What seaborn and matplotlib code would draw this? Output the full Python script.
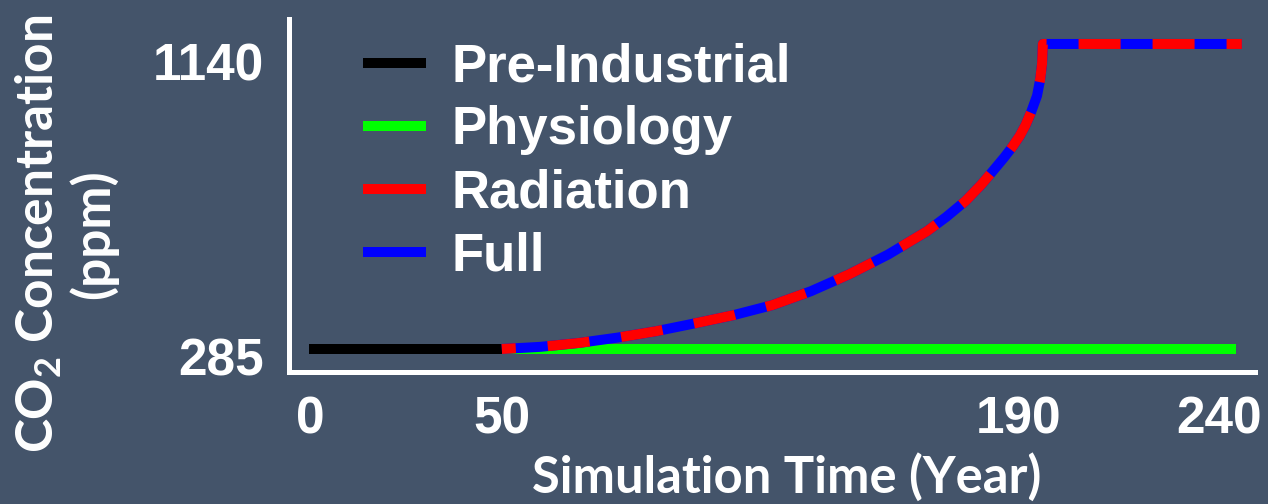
import matplotlib
matplotlib.use("Agg")
import matplotlib.pyplot as plt
import matplotlib.transforms as mtransforms
from matplotlib.lines import Line2D
import seaborn as sns

# Prescribed CO2 pathways (ppm) by simulation year
preindustrial_years = [0, 50]
preindustrial_ppm = [285, 285]

physiology_years = [50, 240]
physiology_ppm = [285, 285]

ramp_years = [50, 60, 70, 80, 90, 100, 110, 120, 130, 140, 150, 160, 165,
              170, 174, 177, 180, 182, 184, 185.5, 187, 188.5, 189.3, 189.8,
              190, 241.5]
radiation_ppm = [285, 291, 302, 317, 335, 357, 380, 408, 447, 495, 550, 615,
                 655, 700, 745, 783, 822, 850, 882, 912, 950, 995, 1040, 1085,
                 1140, 1140]
full_ppm = [285, 291, 302, 317, 335, 357, 380, 408, 447, 495, 550, 615,
            655, 700, 745, 783, 822, 850, 882, 912, 950, 995, 1040, 1085,
            1140, 1140]

series_labels = ["Pre-Industrial", "Physiology", "Radiation", "Full"]
series_colors = ["#000000", "#00FF00", "#FF0000", "#0000FF"]

x_ticks = [0, 50, 190, 240]
y_ticks = [285, 1140]

BG = "#44546A"
LW = 7.2

sns.set_theme(style="white")
plt.rcParams["font.family"] = ["Liberation Sans", "DejaVu Sans"]
plt.rcParams["mathtext.default"] = "regular"

fig, ax = plt.subplots(figsize=(12.68, 5.04), dpi=100)
fig.patch.set_facecolor(BG)
ax.set_facecolor(BG)
fig.subplots_adjust(left=289 / 1268, right=1255 / 1268,
                    bottom=1 - 372 / 504, top=1 - 19 / 504)

sns.lineplot(x=physiology_years, y=physiology_ppm, ax=ax, color=series_colors[1],
             lw=LW, solid_capstyle="butt")
sns.lineplot(x=preindustrial_years, y=preindustrial_ppm, ax=ax, color=series_colors[0],
             lw=LW, solid_capstyle="butt")
sns.lineplot(x=ramp_years, y=full_ppm, ax=ax, color=series_colors[3],
             lw=LW, solid_capstyle="butt")
sns.lineplot(x=ramp_years, y=radiation_ppm, ax=ax, color=series_colors[2],
             lw=LW)
ax.lines[-1].set_linestyle((2.8, (4.2, 3.2)))
ax.lines[-1].set_dash_capstyle("butt")

ax.set_xlim(-5.07, 244.9)
ax.set_ylim(220.5, 1210)

ax.set_xticks(x_ticks)
ax.set_xticklabels([str(v) for v in x_ticks])
ax.set_yticks(y_ticks)
ax.set_yticklabels([str(v) for v in y_ticks])
ax.tick_params(axis="both", length=0, colors="white", labelsize=37)
ax.tick_params(axis="x", pad=17)
ax.tick_params(axis="y", pad=18)
for lab in ax.get_xticklabels() + ax.get_yticklabels():
    lab.set_fontweight("bold")

# nudge tick labels (pixels at 100 dpi)
x_shift = [2, 0, -24, -17]
y_shift = [-8, -18]
for lab, dx in zip(ax.get_xticklabels(), x_shift):
    lab.set_transform(lab.get_transform() +
                      mtransforms.ScaledTranslation(dx / 100, 0, fig.dpi_scale_trans))
for lab, dy in zip(ax.get_yticklabels(), y_shift):
    lab.set_transform(lab.get_transform() +
                      mtransforms.ScaledTranslation(0, dy / 100, fig.dpi_scale_trans))

for side in ["top", "right"]:
    ax.spines[side].set_visible(False)
for side in ["left", "bottom"]:
    ax.spines[side].set_color("white")
    ax.spines[side].set_linewidth(3.6)

handles = [Line2D([], [], color=c, lw=LW, solid_capstyle="butt") for c in series_colors]
leg = ax.legend(handles, series_labels, loc="upper left",
                bbox_to_anchor=(363 / 1268, 1 - 42 / 504), bbox_transform=fig.transFigure,
                frameon=False, prop={"family": "Liberation Sans", "weight": "bold", "size": 38},
                handlelength=1.2, handletextpad=0.47, labelspacing=0.25,
                borderpad=0, borderaxespad=0)
for t in leg.get_texts():
    t.set_color("white")

fig.text(787 / 1268, 1 - 477 / 504, "Simulation Time (Year)", ha="center", va="center",
         color="white", family="Lato", weight="bold", size=36.5)
fig.text(66 / 1268, 1 - 234 / 504, "CO$_2$ Concentration\n(ppm)", rotation=90,
         ha="center", va="center", multialignment="center", color="white",
         family="Lato", weight="bold", size=37, linespacing=1.1)

fig.savefig("out.png", dpi=100, facecolor=BG)
